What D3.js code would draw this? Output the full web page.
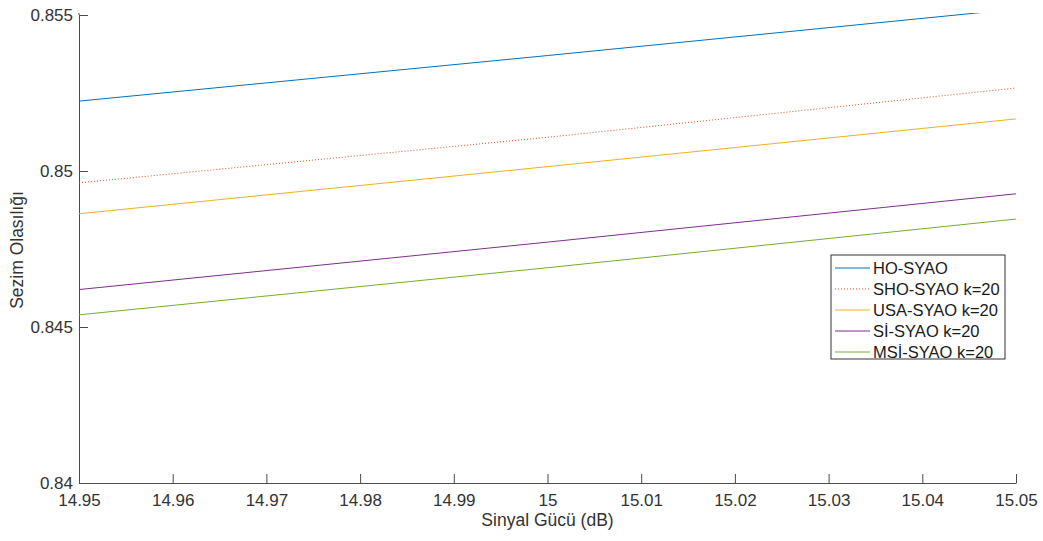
<!DOCTYPE html>
<html>
<head>
<meta charset="utf-8">
<title>Sezim Olasılığı</title>
<style>
  body { margin: 0; background: #fff; }
  svg { display: block; font-family: "Liberation Sans", Arial, sans-serif; }
  .axis path, .axis line { stroke: #4a4a4a; }
</style>
</head>
<body>
<div id="chart"></div>
<script src="https://cdn.jsdelivr.net/npm/d3@7"></script>
<script>
// Chart data
const xValues = [14.95, 15.00, 15.05];
const seriesNames = ["HO-SYAO", "SHO-SYAO k=20", "USA-SYAO k=20", "Sİ-SYAO k=20", "MSİ-SYAO k=20"];
const hoSyao  = [0.85224, 0.85370, 0.85519];
const shoSyao = [0.84962, 0.85108, 0.85266];
const usaSyao = [0.84863, 0.85014, 0.85167];
const siSyao  = [0.84620, 0.84772, 0.84927];
const msiSyao = [0.84539, 0.84690, 0.84846];
const xTicks = [14.95, 14.96, 14.97, 14.98, 14.99, 15, 15.01, 15.02, 15.03, 15.04, 15.05];
const yTicks = [0.84, 0.845, 0.85, 0.855];

const colors = ["#0072BD", "#D95319", "#EDB120", "#7E2F8E", "#77AC30"];
const dashes = [null, "1,2", null, null, null];
const allSeries = [hoSyao, shoSyao, usaSyao, siSyao, msiSyao];

const width = 1043, height = 541;
const plotLeft = 79, plotRight = 1016, plotTop = 15, plotBottom = 483;

const x = d3.scaleLinear().domain([14.95, 15.05]).range([plotLeft, plotRight]);
const y = d3.scaleLinear().domain([0.84, 0.855]).range([plotBottom, plotTop]);

const svg = d3.select("#chart").append("svg")
  .attr("width", width)
  .attr("height", height);

svg.append("clipPath").attr("id", "plotClip")
  .append("rect")
  .attr("x", plotLeft).attr("y", plotTop - 2)
  .attr("width", plotRight - plotLeft).attr("height", plotBottom - plotTop + 2);

// Axes (ticks pointing inward, no box)
const xAxis = svg.append("g")
  .attr("class", "axis")
  .attr("transform", `translate(0,${plotBottom})`)
  .call(d3.axisBottom(x).tickValues(xTicks).tickFormat(d3.format("~g"))
    .tickSizeInner(-9).tickSizeOuter(0).tickPadding(11));

const yAxis = svg.append("g")
  .attr("class", "axis")
  .attr("transform", `translate(${plotLeft},0)`)
  .call(d3.axisLeft(y).tickValues(yTicks).tickFormat(d3.format("~g"))
    .tickSizeInner(-9).tickSizeOuter(0).tickPadding(6));

[xAxis, yAxis].forEach(g => {
  g.attr("font-family", "Liberation Sans, Arial, sans-serif").attr("font-size", 17);
  g.selectAll("text").attr("fill", "#333");
});

// extend the y axis line slightly to the top like the reference
svg.append("line")
  .attr("x1", plotLeft).attr("x2", plotLeft)
  .attr("y1", plotTop - 2).attr("y2", plotTop)
  .attr("stroke", "#4a4a4a");

// Lines
const line = d3.line()
  .x((d, i) => x(xValues[i]))
  .y(d => y(d));

svg.append("g")
  .attr("clip-path", "url(#plotClip)")
  .selectAll("path")
  .data(allSeries)
  .join("path")
  .attr("fill", "none")
  .attr("stroke", (d, i) => colors[i])
  .attr("stroke-width", 1)
  .attr("stroke-dasharray", (d, i) => dashes[i])
  .attr("d", line);

// Axis labels
svg.append("text")
  .attr("x", (plotLeft + plotRight) / 2)
  .attr("y", 526)
  .attr("text-anchor", "middle")
  .attr("fill", "#333")
  .attr("font-size", 17.5)
  .text("Sinyal Gücü (dB)");

svg.append("text")
  .attr("transform", `translate(23,250) rotate(-90)`)
  .attr("text-anchor", "middle")
  .attr("fill", "#333")
  .attr("font-size", 17.5)
  .text("Sezim Olasılığı");

// Legend
const legend = svg.append("g");
legend.append("rect")
  .attr("x", 831).attr("y", 255)
  .attr("width", 174).attr("height", 104)
  .attr("fill", "#fff")
  .attr("stroke", "#333")
  .attr("stroke-width", 1);

const item = legend.selectAll("g.item")
  .data(seriesNames)
  .join("g")
  .attr("class", "item")
  .attr("transform", (d, i) => `translate(0,${268 + i * 21})`);

item.append("line")
  .attr("x1", 835).attr("x2", 870)
  .attr("stroke", (d, i) => colors[i])
  .attr("stroke-width", 1)
  .attr("stroke-dasharray", (d, i) => dashes[i]);

item.append("text")
  .attr("x", 873)
  .attr("dy", "0.35em")
  .attr("fill", "#1a1a1a")
  .attr("font-size", 16.5)
  .text(d => d);
</script>
</body>
</html>
